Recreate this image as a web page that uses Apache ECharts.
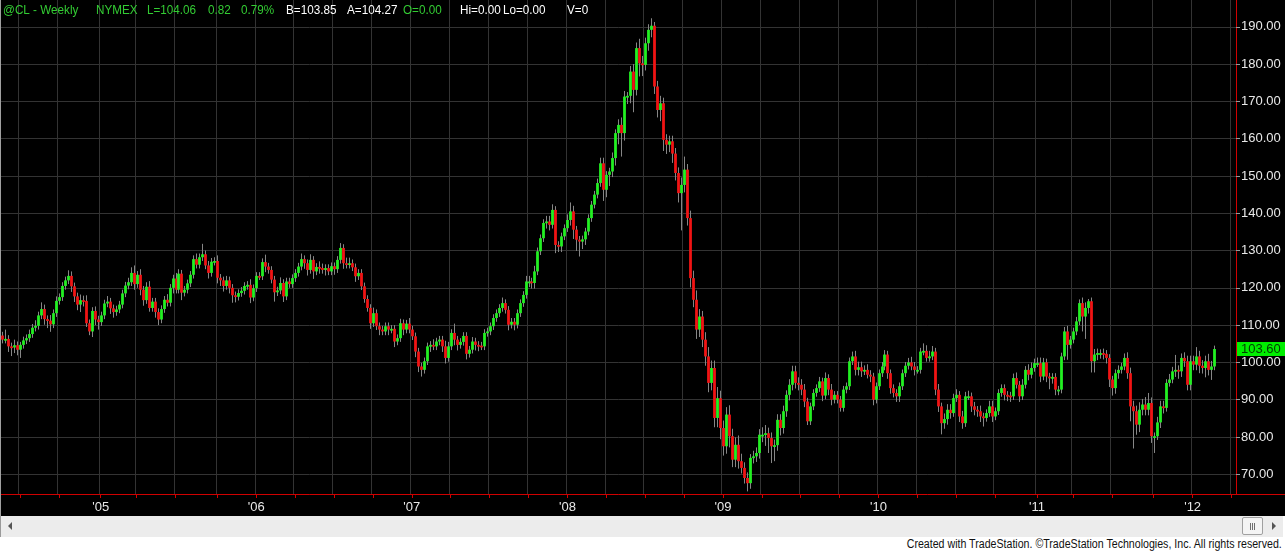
<!DOCTYPE html>
<html>
<head>
<meta charset="utf-8">
<script src="https://cdn.jsdelivr.net/npm/echarts@6/dist/echarts.min.js"></script>
<style>
  html,body{margin:0;padding:0;background:#fff;}
  #wrap{position:relative;width:1285px;height:552px;overflow:hidden;background:#fff;}
  #chart{position:absolute;left:0;top:0;width:1285px;height:516px;}
  #scroll{position:absolute;left:0;top:516px;width:1283px;height:21px;background:#ececec;border-left:1px solid #9a9a9a;box-sizing:border-box;}
  #larrow{position:absolute;left:7px;top:6px;width:0;height:0;border-top:4px solid transparent;border-bottom:4px solid transparent;border-right:4px solid #555;}
  #rarrow{position:absolute;left:1271px;top:6px;width:0;height:0;border-top:4px solid transparent;border-bottom:4px solid transparent;border-left:4px solid #555;}
  #thumb{position:absolute;left:1241px;top:1px;width:19px;height:16px;background:#f4f4f4;border:1px solid #a0a0a0;border-radius:2px;}
  #thumb i{position:absolute;top:5px;width:1px;height:7px;background:#707070;}
  #foot{position:absolute;right:3px;top:537px;font:12px "Liberation Sans",Arial,sans-serif;color:#111;white-space:nowrap;transform:scaleX(0.885);transform-origin:right top;}
</style>
</head>
<body>
<div id="wrap">
  <div id="chart"></div>
  <div id="scroll"><div id="larrow"></div><div id="thumb"><i style="left:7px"></i><i style="left:9px"></i><i style="left:11px"></i></div><div id="rarrow"></div></div>
  <div id="foot">Created with TradeStation. ©TradeStation Technologies, Inc. All rights reserved.</div>
</div>
<script>
// ---- data (weekly @CL) ----
const startDate = '2004-05-21';
const totalWeeks = 413;            // includes empty weeks at the right edge
const firstOpen = 107.2;
const closes = [
  106.1,106.3,104.3,104.0,104.6,103.4,104.7,105.9,106.5,107.6,
  109.3,109.8,112.6,114.3,111.6,111.2,110.2,113.2,116.5,117.5,
  120.5,122.0,123.2,120.4,117.7,115.5,116.7,116.5,110.5,108.3,
  113.8,111.5,110.8,112.6,115.8,116.3,114.5,113.5,114.2,115.5,
  118.5,120.6,121.5,124.0,121.0,123.5,119.5,116.7,120.3,114.6,
  116.3,113.5,111.5,114.3,116.8,116.0,120.0,122.5,119.5,123.8,
  118.7,119.5,121.2,123.5,127.7,126.2,128.2,129.0,126.0,124.0,
  127.0,127.2,122.7,122.0,120.5,122.0,120.0,118.0,117.6,118.6,
  119.2,120.5,120.8,117.4,119.9,123.2,123.1,126.9,125.7,124.8,
  122.2,118.8,119.3,121.3,117.7,121.7,121.0,122.6,124.0,125.7,
  127.7,126.6,124.8,127.5,124.4,125.6,125.3,124.8,125.3,124.4,
  125.8,125.0,127.5,130.7,126.6,126.2,126.6,125.5,123.1,124.0,
  120.4,117.0,114.6,110.5,113.2,109.7,108.8,108.3,109.7,108.8,
  109.0,105.6,106.5,110.5,108.8,110.4,108.8,107.0,102.9,98.9,
  98.0,100.3,104.3,104.7,104.3,105.6,106.1,104.3,101.2,104.3,
  107.9,106.1,104.7,105.5,107.1,102.3,103.4,105.6,104.7,104.5,
  104.3,107.9,108.3,109.7,111.9,113.2,114.6,115.9,114.1,110.1,
  110.9,110.1,113.2,115.9,118.1,121.7,121.7,121.3,124.4,129.8,
  133.3,137.4,137.8,136.9,140.9,131.5,131.1,133.8,136.0,138.2,
  140.5,135.6,132.9,132.4,133.0,135.1,138.7,142.3,145.0,148.1,
  153.4,146.3,150.3,151.2,154.8,161.5,163.7,161.5,171.3,171.5,
  178.0,173.1,184.3,180.2,179.8,185.6,189.2,190.3,174.0,167.7,
  169.5,159.7,158.4,159.3,156.0,150.8,145.4,147.6,151.7,138.7,
  122.6,116.8,108.8,112.3,106.1,101.6,94.5,98.5,85.1,90.4,
  82.4,77.5,86.0,80.2,73.9,77.9,73.5,71.7,69.0,67.6,
  74.4,74.8,75.7,80.6,80.6,81.0,79.7,77.5,77.8,84.6,
  82.4,86.9,91.3,94.0,97.6,94.5,94.0,92.7,89.5,84.2,
  88.2,91.8,93.1,94.9,91.1,95.8,92.7,90.0,91.3,90.0,
  87.8,92.7,93.6,100.3,101.6,98.0,98.7,97.6,98.0,96.7,
  96.2,90.0,93.6,97.1,98.9,102.1,97.1,93.1,91.8,90.9,
  93.6,97.1,99.1,100.0,98.9,98.0,98.0,102.9,103.1,101.2,
  101.6,102.9,92.7,88.2,83.7,84.8,87.3,86.4,90.4,91.3,
  85.5,83.7,90.9,90.9,88.2,87.3,86.9,85.5,85.1,86.4,
  88.2,85.5,86.9,91.8,93.1,91.3,91.1,90.9,95.8,94.0,
  90.9,94.0,98.0,96.7,98.5,99.8,99.8,96.2,100.0,96.2,
  95.8,96.1,92.7,92.7,101.6,108.3,104.7,106.1,108.3,111.0,
  115.9,112.3,114.6,116.4,100.3,102.1,102.5,102.5,102.3,101.2,
  95.4,93.1,97.1,98.0,98.9,101.2,97.1,88.2,86.9,83.3,
  87.3,88.7,87.3,89.1,80.2,80.2,83.9,88.2,87.8,94.5,
  95.4,97.6,98.0,97.6,101.2,100.3,94.0,100.3,99.4,101.6,
  99.1,98.5,100.3,98.0,98.9,103.6
];
// upper / lower wick lengths beyond the body
const wickUp = [
  1,2.5,1,1,1.5,1,0.8,1,1,1.2,
  1,1.5,1,1.8,1.2,1,1.5,1,1.2,1,
  1,1,1.5,1.2,1,1,1.5,1.2,1.5,1,
  1,1.2,1,1,1,1.5,1,1,1,1,
  1,1,1.2,1.5,2,1,1.5,1,1.2,1.5,
  1,1,1,1,1,1.5,1,1,1.5,1.2,
  1,1,1,1,1,1.5,1,2.8,1,1.2,
  1,1,1.5,1,1,1.2,1,1,1,1,
  1,1,1,1.5,1,1,1,1,2,1,
  1,1,1,1.5,1,1,1,1,1,1,
  1.5,1,1,1.5,1,1,1.5,1.2,1,1,
  1,1,1,1.3,1,1.5,1.5,1,1,1,
  1,1,1,1,1.5,1,1,1,1,1,
  1,1,1,1.2,1,1,1.5,1,1,1,
  1,1,1,1,1.5,1,1,1,1.5,1.2,
  1,2.5,1,1,1,1,1,1.2,1,1,
  1,1,1,1,1,1,1,1.5,1,1,
  1,1,1,1,1,1.5,1.5,1,1.5,1,
  1,1,1.5,1.5,1.5,1,1,1,1,1.5,
  2.4,1.5,1,1,1,1,1,1,1,1.2,
  1.5,1.5,1,1,1.5,1,1.5,2,1.5,1,
  1.5,2,1.5,2.5,2,1.5,1.5,2,1,1.5,
  2,1.5,1.5,1.5,1.5,1.5,1.5,2,3.5,1.5,
  2,2,2.5,2,1.5,2,2.5,2,2,3,
  2,2,2,2.5,2,2,2.5,2,1.5,1.5,
  1,1.5,1.5,1.5,2,2.2,1.5,1.5,1.5,1.5,
  1.5,1.5,1.2,1.5,1.5,1.5,1.5,1.5,1.5,1,
  1,1,1,1.2,1,1.5,1,1.5,1,1,
  1,1,1,1,1.3,1.5,1.5,1.5,1.2,1.5,
  1.2,1,1,1,1.2,1.2,1,1,1,1,
  1,1,1,1.2,1.5,1.2,1,1,2,1.5,
  1.5,1.5,1,1.5,1,1.5,1.5,1.5,1.2,1.5,
  1,1.5,1.2,1.5,1,1.2,1,1.5,1,1,
  1.5,1.5,1,1,1,1,1,1,1.2,1.5,
  1,1.5,1,1.5,1.5,1.2,1.5,1.5,1.2,1,
  1,1,1,1,1,1.2,1.5,1,1,1.2,
  1,1.5,1.5,0.6,1,1.5,1.2,1,1.2,1,
  1,1,1,1.2,1,1.2,1.5,1.5,1.5,1.5,
  2,1.5,2,2.7,1.5,1,1.5,1.5,1.5,1,
  1.5,1.2,4,1.2,1.2,1.5,1.5,1.5,1.5,2.5,
  1.5,1.5,1.5,2,1.5,0.9
];
const wickDown = [
  1,1,1.5,2.3,1.5,1.5,2.2,1,1,1,
  1,1,1,1,1.5,2,2,1,1,1,
  1,1,1,1.5,1.5,1.5,2,1.5,1,1,
  1.5,1.5,2,1,1,1,1.5,1.5,1,1,
  1,1,1,1,1.5,1,1.5,1.5,1,1,
  1,1.5,1.5,1,1,1,1,1.5,1,1,
  2,1,1,1,1,1,1,1,1,1.5,
  1,1,1.5,1.5,1.5,1,1.5,2,1.5,1,
  1,1,1,1.5,1,1,1,1,1.5,1,
  1,2.5,1,1,1.5,1,1,1,1,1,
  1,1.5,1.5,1,2,1,1.5,1,1.5,1,
  1,1.5,1,1,1.5,1,1,1,1.5,1,
  1,1,1,1.5,1,1,1.5,1,1,1.5,
  1,1.5,1,1,1.5,1,1,1,1.5,1.5,
  1.8,1,1,1.5,1,1,1,1.5,1.5,1,
  1,1.5,1.5,1,1,1.5,1,1,1.5,1.5,
  1,1,1,1,1,1,1,1,1,1.5,
  1,1.5,1,1,1,1,1.5,1.5,1.5,1,
  1,1,1.5,1.5,1,2.2,1.5,1.5,1,1,
  1.5,2.5,3,4,2,1.5,1,1,1,1,
  1,3,2,3,1.5,2,3,6.3,2,2,
  2,6,1.5,3.5,3,1.5,2,2,2,2,
  3,3,2.5,2,2.5,2,2.5,10,2,2,
  2.5,2,2.5,2,2,2.5,2.5,2,2.5,2.5,
  3,2.5,2,3,2,2,2,1.5,1.5,2.2,
  1.5,1.5,1.5,1.5,2,3,4,4.5,4,1.5,
  2,1.5,1.5,1.5,1.5,1.5,1.5,1.5,1.5,1,
  1,1,1,1,1.5,1,1.5,1.5,1,1,
  1,1,1,1,1,1.5,1.5,1.5,1,1,
  1.5,1.5,1,1,1,1,1.5,1.5,1.2,1.5,
  1.5,1,1,1,1,1.5,1,1,1,1,
  1,1,1.5,1.5,3,1.5,1.5,1.5,1,1,
  1.5,1.5,1,1,1.5,1.5,1.5,1.5,2.3,1,
  1,1.5,1,1,1,1.5,1.5,1.5,1,1,
  1.5,1,1,1.5,1,1,1,1.5,1,1.5,
  3,1.5,1.5,1.5,1,1,4,1,1,1,
  1,4,6,1.5,3,3,1.5,1.5,1.5,1.5,
  2,2,1.5,1.5,1,1,1.5,4,10,2.7,
  2,1.5,1.5,1.5,1.8,4.5,1,1.5,1.5,1,
  1,1,1.5,2,1.5,1.5,1.5,1.5,1.5,1.5,
  2,1.5,2.5,1.5,2.7,1
];
const priceTicks = [70,80,90,100,110,120,130,140,150,160,170,180,190];
const titleParts = [
  {x:3,   text:'@CL - Weekly', c:'g'},
  {x:96,  text:'NYMEX', c:'g'},
  {x:147, text:'L=104.06', c:'g'},
  {x:208, text:'0.82', c:'g'},
  {x:241, text:'0.79%', c:'g'},
  {x:286, text:'B=103.85', c:'w'},
  {x:347, text:'A=104.27', c:'w'},
  {x:403, text:'O=0.00', c:'g'},
  {x:460, text:'Hi=0.00', c:'w'},
  {x:503, text:'Lo=0.00', c:'w'},
  {x:567, text:'V=0', c:'w'}
];

// ---- build ----
const categories = [];
const t0 = Date.parse(startDate + 'T00:00:00Z');
for (let k = 0; k < totalWeeks; k++) {
  categories.push(new Date(t0 + k * 7 * 86400000).toISOString().slice(0, 10));
}
const candles = closes.map((c, i) => {
  const o = i === 0 ? firstOpen : closes[i - 1];
  const h = Math.max(o, c) + wickUp[i];
  const l = Math.min(o, c) - wickDown[i];
  return [i, o, c, l, h];
});
const lastClose = closes[closes.length - 1];

function isQuarterStart(v) {
  const m = +v.slice(5, 7) - 1, d = +v.slice(8, 10);
  return m % 3 === 0 && d <= 7;
}
function isYearStart(v) {
  const m = +v.slice(5, 7) - 1, d = +v.slice(8, 10);
  return m === 0 && d <= 7;
}

const GREEN = '#22f022', RED = '#f01414', WICK = '#868686', GRIDC = '#333333', AXISRED = '#d00000';
const FONT = '"Liberation Sans", Arial, sans-serif';

const chart = echarts.init(document.getElementById('chart'), null, {renderer: 'canvas'});

function renderItem(params, api) {
  const i = api.value(0), o = api.value(1), c = api.value(2), l = api.value(3), h = api.value(4);
  const pO = api.coord([i, o]), pC = api.coord([i, c]), pH = api.coord([i, h]), pL = api.coord([i, l]);
  const cx = Math.round(pO[0]) + 0.5;
  const top = Math.min(pO[1], pC[1]), bot = Math.max(pO[1], pC[1]);
  const up = c >= o;
  return {
    type: 'group',
    children: [
      {type: 'line', shape: {x1: cx, y1: pH[1], x2: cx, y2: pL[1]}, style: {stroke: WICK, lineWidth: 1}},
      {type: 'rect', shape: {x: cx - 1.4, y: top, width: 2.8, height: Math.max(bot - top, 1.8)}, style: {fill: up ? GREEN : RED}}
    ]
  };
}

const graphics = titleParts.map(p => ({
  type: 'text', x: p.x, y: 4, z: 100, scaleX: 0.9,
  style: {text: p.text, fill: p.c === 'g' ? '#33cc33' : '#ffffff', font: '13px ' + FONT}
}));
graphics.push({type: 'rect', left: 0, top: 0, z: 100, shape: {width: 1, height: 516}, style: {fill: '#a0a0a0'}});
graphics.push({type: 'line', z: 100, shape: {x1: 1236, y1: 494.5, x2: 1285, y2: 494.5}, style: {stroke: AXISRED, lineWidth: 1}});

chart.setOption({
  backgroundColor: '#000000',
  animation: false,
  grid: {left: 0.5, right: 49, top: 0, bottom: 22, containLabel: false},
  graphic: graphics,
  xAxis: {
    type: 'category',
    data: categories,
    boundaryGap: true,
    axisLine: {show: true, lineStyle: {color: AXISRED, width: 1}},
    axisTick: {show: true, alignWithLabel: true, length: 4, interval: (i, v) => isQuarterStart(v), lineStyle: {color: AXISRED}},
    axisLabel: {show: true, interval: (i, v) => isYearStart(v), formatter: v => "'" + v.slice(2, 4), color: '#e8e8e8', fontSize: 13, fontFamily: FONT, margin: 7},
    splitLine: {show: true, interval: (i, v) => isQuarterStart(v), lineStyle: {color: GRIDC, width: 1}}
  },
  yAxis: {
    type: 'value',
    position: 'right',
    min: 64.7,
    max: 197.2,
    axisLine: {show: true, lineStyle: {color: AXISRED, width: 1}},
    axisTick: {show: true, length: 4, customValues: priceTicks, lineStyle: {color: '#9a9a9a'}},
    axisLabel: {show: true, customValues: priceTicks, formatter: v => v.toFixed(2), color: '#e8e8e8', fontSize: 13, fontFamily: FONT, margin: 5},
    splitLine: {show: true, lineStyle: {color: GRIDC, width: 1}}
  },
  series: [{
    type: 'custom',
    renderItem: renderItem,
    clip: true,
    dimensions: ['idx', 'open', 'close', 'low', 'high'],
    encode: {x: 0, y: [1, 2, 3, 4]},
    data: candles,
    markLine: {
      silent: true,
      symbol: ['none', 'none'],
      lineStyle: {color: 'rgba(0,0,0,0)', width: 0},
      label: {show: true, position: 'end', formatter: lastClose.toFixed(2), backgroundColor: '#00ee00', color: '#004000', fontSize: 13, fontFamily: FONT, padding: [1, 5, 0, 4], distance: 1},
      data: [{yAxis: lastClose}]
    }
  }]
});
</script>
</body>
</html>
